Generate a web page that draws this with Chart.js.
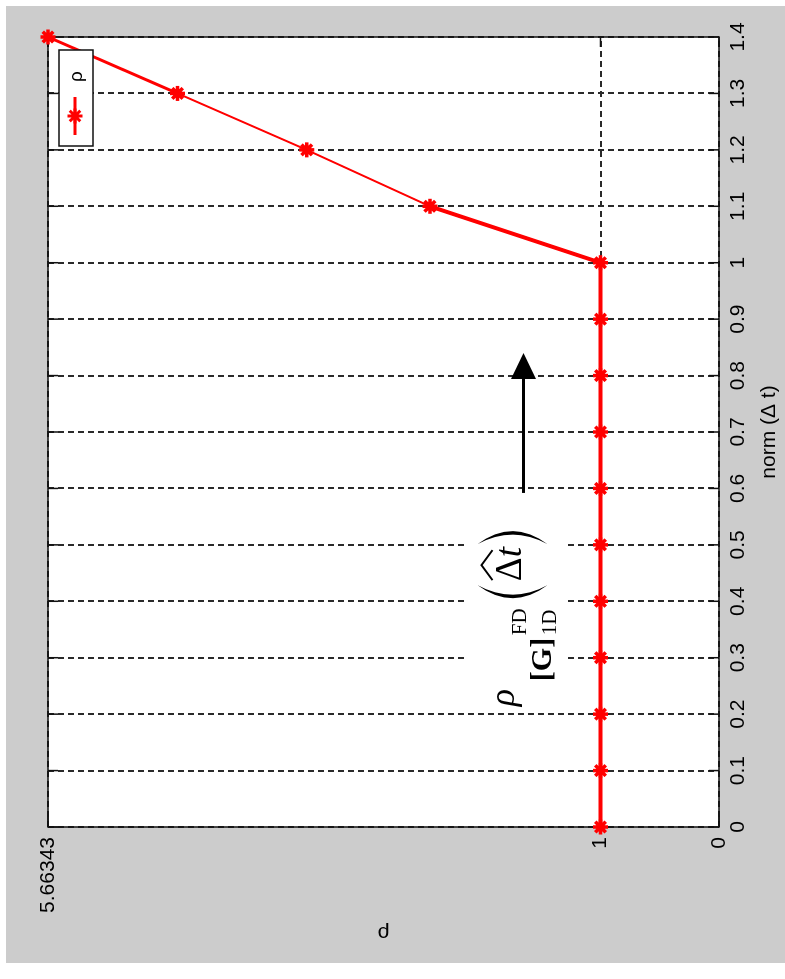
<!DOCTYPE html>
<html>
<head>
<meta charset="utf-8">
<script src="https://cdn.jsdelivr.net/npm/chart.js@4.4.0/dist/chart.umd.min.js"></script>
<style>
html,body{margin:0;padding:0;background:#fff;overflow:hidden}
#wrap{position:relative;width:785px;height:979px;overflow:hidden}
/* the figure is drawn upright and turned a quarter turn, like the scan */
#c{position:absolute;left:0;top:0;transform-origin:0 0;transform:translateY(979px) rotate(-90deg)}
</style>
</head>
<body>
<div id="wrap"><canvas id="c" width="979" height="785"></canvas></div>
<script>
// data
const normVals = [0, 0.1, 0.2, 0.3, 0.4, 0.5, 0.6, 0.7, 0.8, 0.9, 1, 1.1, 1.2, 1.3, 1.4]
const rhoVals  = [1, 1, 1, 1, 1, 1, 1, 1, 1, 1, 1, 2.44, 3.48, 4.57, 5.66343]
const normTicks = [0, 0.1, 0.2, 0.3, 0.4, 0.5, 0.6, 0.7, 0.8, 0.9, 1, 1.1, 1.2, 1.3, 1.4]
const rhoTicks = [0, 1, 5.66343]
const seriesLabel = 'ρ'
const normTitle = 'norm (\u0394 t)'
const rhoTitle = 'ρ'

// annotation: [norm, rho]
const arrowFrom = [0.592, 1.65]
const arrowTo = [0.84, 1.65]
const formulaAt = [0.2, 1.65]

const RED = '#ff0000'
const sans = 'Liberation Sans'
const serif = 'Liberation Serif'

function px(chart, p){
    return [chart.scales.x.getPixelForValue(p[0]), chart.scales.y.getPixelForValue(p[1])]
}

const figure = {
    id: 'figure',
    beforeDraw(chart){
        const ctx = chart.ctx, a = chart.chartArea
        ctx.save()
        ctx.fillStyle = '#fff'
        ctx.fillRect(0, 0, chart.width, chart.height)
        ctx.fillStyle = '#cccccc'
        ctx.fillRect(16, 6, chart.width - 22, chart.height - 6)
        ctx.fillStyle = '#fff'
        ctx.fillRect(a.left, a.top, a.right - a.left, a.bottom - a.top)
        ctx.restore()
    },
    beforeDatasetsDraw(chart){
        const ctx = chart.ctx, a = chart.chartArea
        const xs = chart.scales.x, ys = chart.scales.y
        ctx.save()
        ctx.strokeStyle = '#111'
        ctx.lineWidth = 1.5
        ctx.beginPath()
        // ticks inside the box, on both sides
        normTicks.forEach(v => {
            const p = xs.getPixelForValue(v)
            ctx.moveTo(p, a.bottom); ctx.lineTo(p, a.bottom - 10)
            ctx.moveTo(p, a.top); ctx.lineTo(p, a.top + 10)
        })
        rhoTicks.forEach(v => {
            const p = ys.getPixelForValue(v)
            ctx.moveTo(a.left, p); ctx.lineTo(a.left + 10, p)
            ctx.moveTo(a.right, p); ctx.lineTo(a.right - 10, p)
        })
        ctx.stroke()
        ctx.strokeRect(a.left, a.top, a.right - a.left, a.bottom - a.top)
        ctx.restore()
    },
    afterDraw(chart){
        const ctx = chart.ctx, a = chart.chartArea
        const ds = chart.data.datasets[0]
        ctx.save()

        // legend box
        const bx = a.right - 109, by = a.top + 11
        ctx.fillStyle = '#fff'
        ctx.fillRect(bx, by, 96, 34)
        ctx.strokeStyle = '#111'
        ctx.lineWidth = 1.5
        ctx.strokeRect(bx, by, 96, 34)
        ctx.strokeStyle = RED
        ctx.lineWidth = 3
        ctx.beginPath()
        ctx.moveTo(bx + 11, by + 16); ctx.lineTo(bx + 49, by + 16)
        ctx.stroke()
        ctx.fillStyle = RED
        Chart.helpers.drawPoint(ctx, {pointStyle: ds.pointStyle, radius: ds.pointRadius, borderWidth: ds.pointBorderWidth, rotation: 0}, bx + 30, by + 16)
        ctx.fillStyle = '#000'
        ctx.font = '19px "' + sans + '"'
        ctx.textBaseline = 'middle'
        ctx.fillText(ds.label, bx + 64, by + 18)

        // arrow
        const [u0, v0] = px(chart, arrowFrom)
        const [u1, v1] = px(chart, arrowTo)
        ctx.strokeStyle = '#000'
        ctx.fillStyle = '#000'
        ctx.lineWidth = 3
        ctx.beginPath()
        ctx.moveTo(u0, v0); ctx.lineTo(u1 - 24, v1)
        ctx.stroke()
        ctx.beginPath()
        ctx.moveTo(u1, v1); ctx.lineTo(u1 - 26, v1 - 12.5); ctx.lineTo(u1 - 26, v1 + 12.5)
        ctx.closePath(); ctx.fill()

        // formula rho_[G]_1D^FD ( hat(Delta t) )
        const [fu, fv] = px(chart, formulaAt)
        ctx.fillStyle = '#fff'
        ctx.fillRect(fu + 4, fv - 56, 184, 100)
        ctx.fillStyle = '#000'
        ctx.textBaseline = 'alphabetic'
        ctx.font = 'italic 36px "' + serif + '"'
        ctx.fillText('ρ', fu + 8, fv - 10)
        ctx.font = 'bold 30px "' + serif + '"'
        ctx.fillText('[G]', fu + 33, fv + 27)
        ctx.font = '21px "' + serif + '"'
        ctx.fillText('FD', fu + 79, fv + 2)
        ctx.fillText('1D', fu + 79, fv + 32)
        ctx.font = '37px "' + serif + '"'
        ctx.fillText('\u0394', fu + 133, fv - 3)
        ctx.font = 'italic 37px "' + serif + '"'
        ctx.fillText('t', fu + 157, fv - 3)
        // hat
        ctx.strokeStyle = '#000'
        ctx.lineWidth = 2
        ctx.beginPath()
        ctx.moveTo(fu + 134, fv - 31); ctx.lineTo(fu + 149, fv - 42); ctx.lineTo(fu + 164, fv - 31)
        ctx.stroke()
        // big parentheses
        ctx.beginPath()
        ctx.moveTo(fu + 129, fv - 46)
        ctx.quadraticCurveTo(fu + 103, fv - 11, fu + 129, fv + 24)
        ctx.quadraticCurveTo(fu + 110, fv - 11, fu + 129, fv - 46)
        ctx.fill()
        ctx.beginPath()
        ctx.moveTo(fu + 170, fv - 46)
        ctx.quadraticCurveTo(fu + 196, fv - 11, fu + 170, fv + 24)
        ctx.quadraticCurveTo(fu + 189, fv - 11, fu + 170, fv - 46)
        ctx.fill()

        ctx.restore()
    }
}

const tickFont = {family: sans, size: 21}

new Chart(document.getElementById('c').getContext('2d'), {
    type: 'line',
    data: {
        datasets: [{
            label: seriesLabel,
            data: normVals.map((n, i) => ({x: n, y: rhoVals[i]})),
            borderColor: RED,
            backgroundColor: RED,
            borderWidth: 4,
            pointStyle: 'star',
            pointRadius: 7.5,
            pointBorderWidth: 3.5,
            pointBackgroundColor: RED,
            pointBorderColor: RED,
            clip: false,
            segment: {
                borderWidth: c => (c.p0DataIndex === 11 || c.p0DataIndex === 12) ? 2 : (c.p0DataIndex === 13 ? 3 : 4)
            }
        }]
    },
    options: {
        responsive: false,
        animation: false,
        devicePixelRatio: 1,
        layout: {padding: {left: 0, top: 48, right: 37, bottom: 0}},
        plugins: {legend: {display: false}, tooltip: {enabled: false}},
        scales: {
            x: {
                type: 'linear', min: 0, max: 1.4, position: 'bottom',
                afterFit(s){ s.height = 66 },
                afterBuildTicks(s){ s.ticks = normTicks.map(v => ({value: v})) },
                ticks: {color: '#000', font: tickFont, padding: 7, maxRotation: 0, autoSkip: false, callback: v => String(v)},
                grid: {color: '#2a2a2a', lineWidth: 2, drawTicks: false},
                border: {display: false, dash: [6, 4]},
                title: {display: true, text: normTitle, color: '#000', font: tickFont, padding: {top: 0, bottom: 3}}
            },
            y: {
                type: 'linear', min: 0, max: 5.66343, position: 'left',
                afterFit(s){ s.width = 152 },
                afterBuildTicks(s){ s.ticks = rhoTicks.map(v => ({value: v})) },
                ticks: {color: '#000', font: tickFont, padding: 10, autoSkip: false, callback: v => String(v)},
                grid: {color: '#2a2a2a', lineWidth: 2, drawTicks: false},
                border: {display: false, dash: [6, 4]},
                title: {display: true, text: rhoTitle, color: '#000', font: tickFont, padding: {top: 34, bottom: 0}}
            }
        }
    },
    plugins: [figure]
})
</script>
</body>
</html>
